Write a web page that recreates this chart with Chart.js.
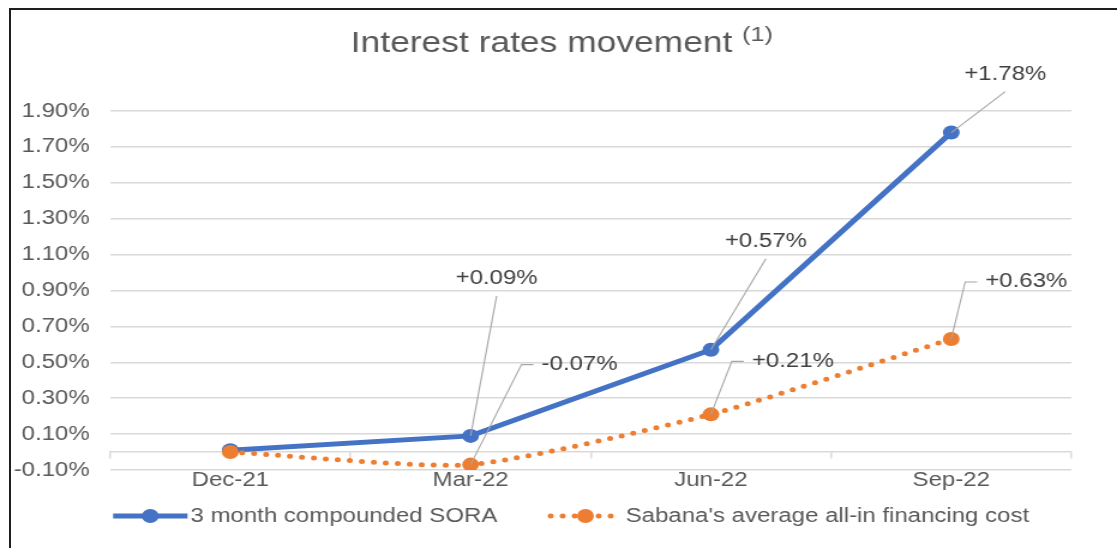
<!DOCTYPE html>
<html>
<head>
<meta charset="utf-8">
<script src="https://cdn.jsdelivr.net/npm/chart.js@4/dist/chart.umd.min.js"></script>
<style>
  html, body { margin: 0; padding: 0; background: #fff; overflow: hidden; }
  #wrap { position: relative; width: 1117px; height: 548px; }
  /* Excel export text is wider than Arial at the same height, so stretch the canvas */
  #chart { position: absolute; left: 0; top: 0; transform-origin: 0 0; transform: scaleX(1.19979); }
  #frame { position: absolute; left: 9px; top: 8px; width: 1200px; height: 600px;
           border-left: 2px solid #1f1f1f; border-top: 2px solid #1f1f1f; pointer-events: none; }
</style>
</head>
<body>
<div id="wrap">
  <canvas id="chart" width="931" height="548"></canvas>
  <div id="frame"></div>
</div>
<script>
const TITLE = 'Interest rates movement';
const TITLE_NOTE = '(1)';

const categories = ['Dec-21', 'Mar-22', 'Jun-22', 'Sep-22'];
const soraValues = [0.01, 0.09, 0.57, 1.78];
const costValues = [0.00, -0.07, 0.21, 0.63];
const seriesNames = ['3 month compounded SORA', "Sabana's average all-in financing cost"];

const Y_MIN = -0.1;
const Y_MAX = 1.9;
const Y_STEP = 0.2;

const FONT = "'Liberation Sans', Arial, sans-serif";
const BLUE = '#4472C4';
const ORANGE = '#ED7D31';
const TEXT = '#595959';
const GRID = '#d9d9d9';

// where each data label sits relative to its point (canvas units), null = no label
const LABEL_POS = [
  [null, { dx: 21.7, dy: -157, type: 'up' }, { dx: 45.8, dy: -108, type: 'up' }, { dx: 45, dy: -58, type: 'up' }],
  [null, { dx: 90.8, dy: -100, type: 'side' }, { dx: 68.3, dy: -53, type: 'side' }, { dx: 62.5, dy: -57, type: 'side' }]
];

const fmtChange = v => (v >= 0 ? '+' : '') + v.toFixed(2) + '%';

const leaderLabels = {
  id: 'leaderLabels',
  afterDatasetsDraw(chart) {
    const ctx = chart.ctx;
    ctx.save();
    ctx.font = `20px ${FONT}`;
    ctx.textBaseline = 'middle';
    ctx.textAlign = 'center';
    chart.data.datasets.forEach((ds, di) => {
      chart.getDatasetMeta(di).data.forEach((pt, i) => {
        const pos = LABEL_POS[di][i];
        if (!pos) return;
        const text = fmtChange(ds.data[i]);
        const cx = pt.x + pos.dx, cy = pt.y + pos.dy;
        const w = ctx.measureText(text).width;
        ctx.strokeStyle = '#a6a6a6';
        ctx.lineWidth = 1.1;
        ctx.beginPath();
        ctx.moveTo(pt.x, pt.y);
        if (pos.type === 'up') {
          ctx.lineTo(cx, cy + 17);
        } else {
          const left = cx - w / 2;
          ctx.lineTo(left - 16.7, cy);
          ctx.lineTo(left - 6.7, cy);
        }
        ctx.stroke();
        ctx.fillStyle = '#404040';
        ctx.fillText(text, cx, cy);
      });
    });
    ctx.restore();
  }
};

const titleWithNote = {
  id: 'titleWithNote',
  afterDraw(chart) {
    const ctx = chart.ctx;
    ctx.save();
    ctx.fillStyle = TEXT;
    ctx.textBaseline = 'alphabetic';
    ctx.textAlign = 'left';
    ctx.font = `29.5px ${FONT}`;
    const w1 = ctx.measureText(TITLE + ' ').width;
    ctx.font = `21px ${FONT}`;
    const w2 = ctx.measureText(TITLE_NOTE).width;
    const x = 468.3 - (w1 + w2) / 2;
    ctx.font = `29.5px ${FONT}`;
    ctx.fillText(TITLE, x, 52);
    ctx.font = `21px ${FONT}`;
    ctx.fillText(TITLE_NOTE, x + w1, 41);
    ctx.restore();
  }
};

const lineLegend = {
  id: 'lineLegend',
  afterDraw(chart) {
    const ctx = chart.ctx;
    const y = 516, sample = 62, gapText = 2.5, gapItem = 42.5;
    ctx.save();
    ctx.font = `20px ${FONT}`;
    const items = chart.data.datasets.map(ds => ({ ds, w: ctx.measureText(ds.label).width }));
    const total = items.reduce((s, it) => s + sample + gapText + it.w, 0) + gapItem * (items.length - 1);
    let x = 476 - total / 2;
    items.forEach(({ ds, w }) => {
      ctx.strokeStyle = ds.borderColor;
      ctx.lineWidth = ds.borderWidth;
      ctx.lineCap = ds.borderCapStyle || 'butt';
      ctx.setLineDash(ds.borderDash || []);
      ctx.beginPath();
      ctx.moveTo(x + (ds.borderDash ? 2 : 0), y);
      ctx.lineTo(x + sample, y);
      ctx.stroke();
      ctx.setLineDash([]);
      ctx.fillStyle = ds.pointBackgroundColor;
      ctx.beginPath();
      ctx.arc(x + sample / 2, y, ds.pointRadius, 0, Math.PI * 2);
      ctx.fill();
      ctx.fillStyle = TEXT;
      ctx.textBaseline = 'middle';
      ctx.textAlign = 'left';
      ctx.fillText(ds.label, x + sample + gapText, y);
      x += sample + gapText + w + gapItem;
    });
    ctx.restore();
  }
};

Chart.defaults.font.family = FONT;
Chart.defaults.font.size = 20;
Chart.defaults.color = TEXT;

new Chart(document.getElementById('chart'), {
  type: 'line',
  data: {
    labels: categories,
    datasets: [
      { label: seriesNames[0], data: soraValues, borderColor: BLUE, borderWidth: 5, tension: 0,
        pointRadius: 7, pointBackgroundColor: BLUE, pointBorderWidth: 0, xAxisID: 'x', yAxisID: 'y', order: 1 },
      { label: seriesNames[1], data: costValues, borderColor: ORANGE, borderWidth: 5, tension: 0.2,
        borderDash: [0, 10], borderCapStyle: 'round',
        pointRadius: 7, pointBackgroundColor: ORANGE, pointBorderWidth: 0, xAxisID: 'x', yAxisID: 'y', order: 0 }
    ]
  },
  options: {
    responsive: false,
    animation: false,
    layout: { padding: { left: -5.6, right: 38, top: 111, bottom: 58 } },
    plugins: { legend: { display: false }, title: { display: false }, tooltip: { enabled: false } },
    scales: {
      x: {
        type: 'category', offset: true,
        grid: { display: false, drawTicks: false },
        border: { display: false },
        ticks: { padding: -2, maxRotation: 0, autoSkip: false, color: TEXT }
      },
      x2: {
        type: 'category', axis: 'x', position: { y: 0 }, offset: true,
        grid: { offset: true, drawOnChartArea: false, drawTicks: true, tickLength: 6, color: GRID, lineWidth: 1.5 },
        border: { color: GRID, width: 1.5 },
        ticks: { display: false }
      },
      y: {
        min: Y_MIN, max: Y_MAX,
        grid: { color: GRID, lineWidth: 1.5, drawTicks: false },
        border: { display: false },
        ticks: { stepSize: Y_STEP, padding: 17, color: TEXT, callback: v => v.toFixed(2) + '%' }
      }
    }
  },
  plugins: [leaderLabels, titleWithNote, lineLegend]
});
</script>
</body>
</html>
